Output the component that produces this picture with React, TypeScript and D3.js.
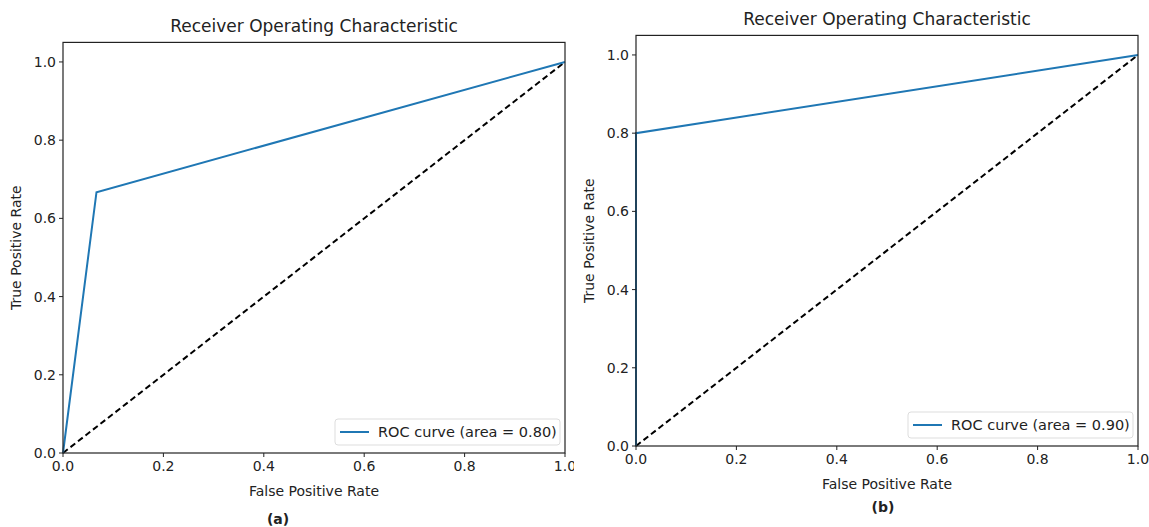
import React from "react";
import * as d3 from "d3";

// ROC points
const fprA = [0, 0.0667, 1];
const tprA = [0, 0.667, 1];
const fprB = [0, 0, 1];
const tprB = [0, 0.8, 1];
const chance = [0, 1];
const tickValues = [0, 0.2, 0.4, 0.6, 0.8, 1.0];
const legendA = "ROC curve (area = 0.80)";
const legendB = "ROC curve (area = 0.90)";
const titleText = "Receiver Operating Characteristic";
const xLabelText = "False Positive Rate";
const yLabelText = "True Positive Rate";

const FONT = "DejaVu Sans, sans-serif";

type PanelProps = {
  left: number;
  right: number;
  top: number;
  bottom: number;
  fpr: number[];
  tpr: number[];
  legend: string;
  caption: string;
  captionX: number;
  captionY: number;
  clipRight?: number;
  id: string;
};

const Panel = ({ left, right, top, bottom, fpr, tpr, legend, caption, captionX, captionY, clipRight, id }: PanelProps) => {
  const x = d3.scaleLinear().domain([0, 1]).range([left, right]);
  const y = d3.scaleLinear().domain([0, 1.05]).range([bottom, top]);
  const line = d3
    .line<[number, number]>()
    .x((d) => x(d[0]))
    .y((d) => y(d[1]));
  const roc = fpr.map((f, i) => [f, tpr[i]] as [number, number]);
  const diag = chance.map((c) => [c, c] as [number, number]);
  const midX = (left + right) / 2;
  const midY = (top + bottom) / 2;
  const fmt = d3.format(".1f");

  // legend box in the lower right corner
  const lw = 225;
  const lh = 26;
  const lx = right - 5 - lw;
  const ly = bottom - 8 - lh;

  return (
    <g clipPath={clipRight ? `url(#${id})` : undefined}>
      {clipRight && (
        <defs>
          <clipPath id={id}>
            <rect x={0} y={0} width={clipRight} height={527} />
          </clipPath>
        </defs>
      )}
      <text x={midX} y={top - 10} textAnchor="middle" fontSize={17} fill="#222">
        {titleText}
      </text>
      <path d={line(diag) ?? ""} fill="none" stroke="#000" strokeWidth={2} strokeDasharray="6,3.5" />
      <path d={line(roc) ?? ""} fill="none" stroke="#1f77b4" strokeWidth={2} />
      <rect x={left} y={top} width={right - left} height={bottom - top} fill="none" stroke="#222" strokeWidth={1.2} />
      {tickValues.map((t) => (
        <g key={"x" + t}>
          <line x1={x(t)} x2={x(t)} y1={bottom} y2={bottom + 4} stroke="#222" />
          <text x={x(t)} y={bottom + 18} textAnchor="middle" fontSize={14} fill="#222">
            {fmt(t)}
          </text>
        </g>
      ))}
      {tickValues.map((t) => (
        <g key={"y" + t}>
          <line x1={left - 4} x2={left} y1={y(t)} y2={y(t)} stroke="#222" />
          <text x={left - 7} y={y(t) + 5} textAnchor="end" fontSize={14} fill="#222">
            {fmt(t)}
          </text>
        </g>
      ))}
      <text x={midX} y={bottom + 43} textAnchor="middle" fontSize={14} fill="#222">
        {xLabelText}
      </text>
      <text
        transform={`translate(${left - 42},${midY}) rotate(-90)`}
        textAnchor="middle"
        fontSize={14}
        fill="#222"
      >
        {yLabelText}
      </text>
      <rect x={lx} y={ly} width={lw} height={lh} rx={3} fill="#fff" stroke="#ddd" />
      <line x1={lx + 5} x2={lx + 34} y1={ly + lh / 2} y2={ly + lh / 2} stroke="#1f77b4" strokeWidth={2} />
      <text x={lx + 43} y={ly + lh / 2 + 5} fontSize={14.5} fill="#222">
        {legend}
      </text>
      <text x={captionX} y={captionY} textAnchor="middle" fontSize={14} fontWeight="bold" fill="#222">
        {caption}
      </text>
    </g>
  );
};

export default function App() {
  return (
    <svg
      width={1149}
      height={527}
      style={{ position: "absolute", left: 0, top: 0, background: "#fff", fontFamily: FONT }}
    >
      <Panel
        id="clipA"
        left={63}
        right={565}
        top={42.4}
        bottom={453}
        fpr={fprA}
        tpr={tprA}
        legend={legendA}
        caption="(a)"
        captionX={278}
        captionY={524}
        clipRight={574}
      />
      <Panel
        id="clipB"
        left={636}
        right={1138}
        top={35.4}
        bottom={446}
        fpr={fprB}
        tpr={tprB}
        legend={legendB}
        caption="(b)"
        captionX={883}
        captionY={512}
      />
    </svg>
  );
}
